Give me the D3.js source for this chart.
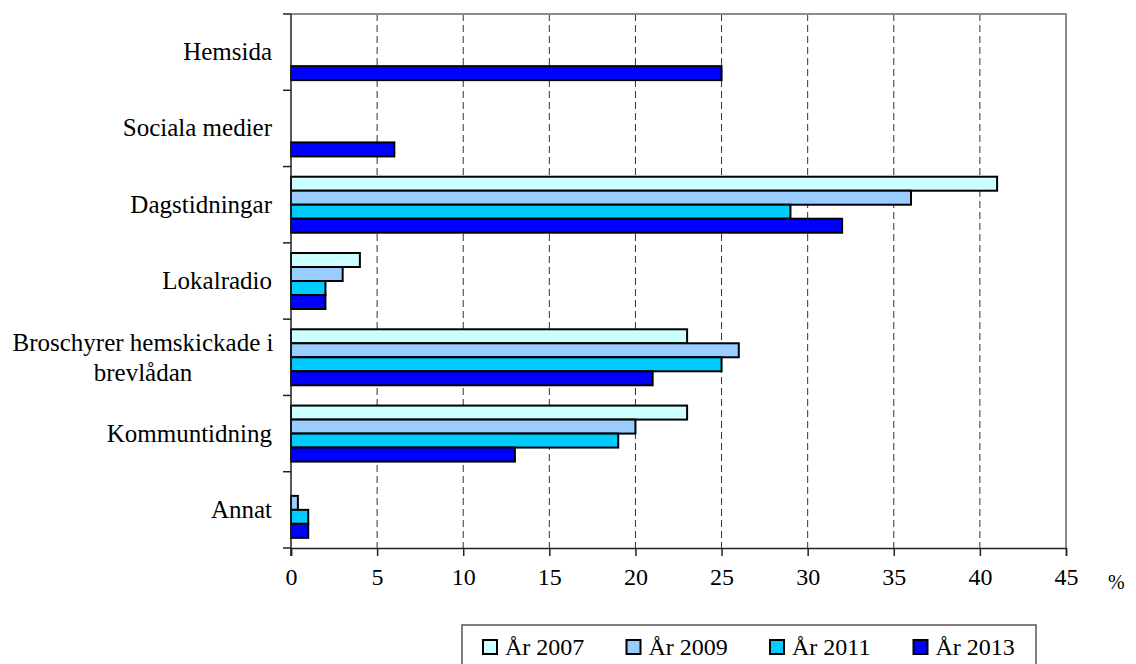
<!DOCTYPE html>
<html><head><meta charset="utf-8">
<script src="https://cdn.jsdelivr.net/npm/d3@7"></script>
<style>
html,body{margin:0;padding:0;background:#fff;}
svg text{font-family:"Liberation Serif","Times New Roman",Times,"DejaVu Serif",serif !important;fill:#000;}
</style></head>
<body><svg id="c" width="1136" height="664"></svg>
<script>
const categories = ["Hemsida","Sociala medier","Dagstidningar","Lokalradio","Broschyrer hemskickade i brevlådan","Kommuntidning","Annat"];
const seriesNames = ["År 2007","År 2009","År 2011","År 2013"];
const y2007 = [null, null, 41, 4, 23, 23, 0];
const y2009 = [null, null, 36, 3, 26, 20, 0.4];
const y2011 = [null, null, 29, 2, 25, 19, 1];
const y2013 = [25, 6, 32, 2, 21, 13, 1];
const xTicks = [0,5,10,15,20,25,30,35,40,45];
const colors = ["#CCFFFF","#99CCFF","#00CCFF","#0000FF"];
const seriesValues = [y2007,y2009,y2011,y2013];

const FONT = "'Liberation Serif','Times New Roman',Times,serif";
const svg = d3.select("#c");
const L = 291, R = 1066, T = 14, B = 548;
const x = d3.scaleLinear().domain([0,45]).range([L,R]);
const y = d3.scaleBand().domain(categories).range([T,B]);
const inner = d3.scaleBand().domain(seriesNames).range([0,56]);

// gridlines
svg.append("g").selectAll("line").data(xTicks.filter(t=>t>0 && t<45)).join("line")
  .attr("x1",d=>x(d)).attr("x2",d=>x(d)).attr("y1",T).attr("y2",B)
  .attr("stroke","#333").attr("stroke-width",1).attr("stroke-dasharray","7,4");

// frame top/right (gray)
svg.append("line").attr("x1",L).attr("x2",R+1).attr("y1",T).attr("y2",T).attr("stroke","#8c8c8c").attr("stroke-width",2);
svg.append("line").attr("x1",R).attr("x2",R).attr("y1",T).attr("y2",B).attr("stroke","#8c8c8c").attr("stroke-width",2);

// bars
const g = svg.append("g");
categories.forEach((c,i)=>{
  const c0 = y(c) + y.bandwidth()/2 - 28;
  seriesNames.forEach((s,j)=>{
    const v = seriesValues[j][i];
    if (v === null || v === 0) return;
    g.append("rect").attr("x",x(0)).attr("y",c0+inner(s))
      .attr("width",x(v)-x(0)).attr("height",inner.bandwidth())
      .attr("fill",colors[j]).attr("stroke","#000").attr("stroke-width",2);
  });
});

// y axis
svg.append("line").attr("x1",L).attr("x2",L).attr("y1",T).attr("y2",B+8).attr("stroke","#222").attr("stroke-width",1.5);
const yTickPos = categories.map(c=>y(c)).concat([B]);
svg.append("g").selectAll("line").data(yTickPos).join("line")
  .attr("x1",L-8).attr("x2",L).attr("y1",d=>d).attr("y2",d=>d).attr("stroke","#222").attr("stroke-width",1.5);

// category labels
const lab = svg.append("g").attr("font-family",FONT).selectAll("text").data(categories).join("text")
  .attr("text-anchor","end").attr("font-size",25).style("font-family",FONT)
  .attr("x",272).attr("y",d=>y(d)+y.bandwidth()/2+8);
lab.each(function(d){
  const t = d3.select(this);
  if (d.startsWith("Broschyrer")) {
    const cy = y(d)+y.bandwidth()/2;
    t.text(null).attr("text-anchor","middle").attr("y",null);
    t.append("tspan").attr("x",143).attr("y",cy-6).text("Broschyrer hemskickade i");
    t.append("tspan").attr("x",143).attr("y",cy+24).text("brevlådan");
  } else t.text(d);
});

// x axis
const xAxis = d3.axisBottom(x).tickValues(xTicks).tickSize(8).tickPadding(12);
const ax = svg.append("g").attr("transform",`translate(0,${B})`).call(xAxis).attr("font-family",FONT);
ax.select(".domain").attr("stroke","#222").attr("stroke-width",1.5);
ax.selectAll(".tick line").attr("stroke","#222").attr("stroke-width",1.5);
ax.selectAll(".tick text").attr("font-size",24).style("font-family",FONT).attr("fill","#000");
svg.append("text").attr("x",1108).attr("y",589).attr("font-size",20).style("font-family",FONT).text("%");

// legend
const lg = svg.append("g");
lg.append("rect").attr("x",462).attr("y",625).attr("width",574).attr("height",50)
  .attr("fill","#fff").attr("stroke","#555").attr("stroke-width",1.5);
seriesNames.forEach((s,j)=>{
  const lx = 483 + j*143.5;
  lg.append("rect").attr("x",lx).attr("y",640).attr("width",14).attr("height",14)
    .attr("fill",colors[j]).attr("stroke","#000").attr("stroke-width",2);
  lg.append("text").attr("x",lx+22).attr("y",655).attr("font-size",24).style("font-family",FONT).text(s);
});
</script></body></html>
